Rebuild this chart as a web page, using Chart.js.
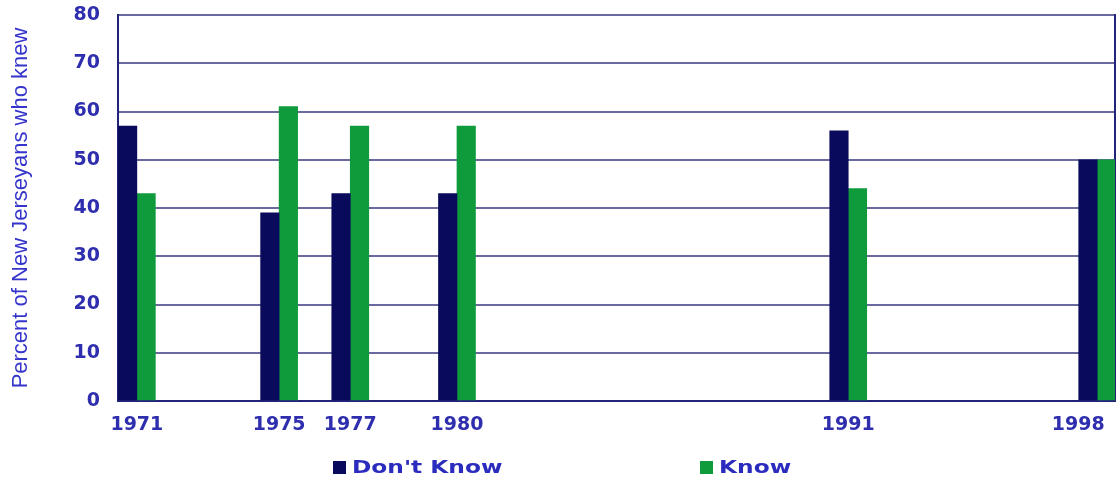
<!DOCTYPE html>
<html>
<head>
<meta charset="utf-8">
<script src="https://cdn.jsdelivr.net/npm/chart.js"></script>
<style>
  html, body { margin: 0; padding: 0; background: #ffffff; }
  #wrap { position: relative; width: 1117px; height: 489px; }
  #legend { position: absolute; left: 0; top: 457px; width: 1117px; height: 24px; }
  .item {
    position: absolute; top: 0; display: flex; align-items: center;
    font: bold 17px "DejaVu Sans", sans-serif; color: #2b2bbd; white-space: nowrap;
  }
  .box { width: 13px; height: 13px; margin-right: 6px; }
  .txt { display: inline-block; transform: scaleX(1.37); transform-origin: left center; }
</style>
</head>
<body>
<div id="wrap">
  <canvas id="chart" width="1117" height="489"></canvas>
  <div id="legend"></div>
</div>
<script>
const years = [1971, 1975, 1977, 1980, 1991, 1998];
const dontKnow = [57, 39, 43, 43, 56, 50];
const know = [43, 61, 57, 57, 44, 50];
const seriesNames = ["Don't Know", "Know"];
const seriesColors = ['#0a0a5c', '#0f9b3b'];
const yTitle = 'Percent of New Jerseyans who knew';

const tickBlue = '#2e2eae';
const lineNavy = '#23237a';
const legendLeft = [333, 700];

// legend kept as html so the wide gap between the two entries matches
const legendEl = document.getElementById('legend');
seriesNames.forEach((name, i) => {
  const item = document.createElement('div');
  item.className = 'item';
  item.style.left = legendLeft[i] + 'px';
  const box = document.createElement('span');
  box.className = 'box';
  box.style.background = seriesColors[i];
  const txt = document.createElement('span');
  txt.className = 'txt';
  txt.textContent = name;
  item.appendChild(box);
  item.appendChild(txt);
  legendEl.appendChild(item);
});

const ctx = document.getElementById('chart').getContext('2d');
new Chart(ctx, {
  type: 'bar',
  data: {
    datasets: [
      {
        label: seriesNames[0],
        data: years.map((y, i) => ({ x: y, y: dontKnow[i] })),
        backgroundColor: seriesColors[0],
        borderWidth: 0
      },
      {
        label: seriesNames[1],
        data: years.map((y, i) => ({ x: y, y: know[i] })),
        backgroundColor: seriesColors[1],
        borderWidth: 0
      }
    ]
  },
  options: {
    responsive: false,
    animation: false,
    devicePixelRatio: 1,
    barThickness: 18.5,
    layout: { padding: { top: 15, right: 2, bottom: 48, left: 0 } },
    plugins: {
      legend: { display: false },
      tooltip: { enabled: false }
    },
    scales: {
      x: {
        type: 'linear',
        min: 1970.47,
        max: 1998.5,
        offset: false,
        grid: { display: false, offset: false },
        border: { display: true, color: lineNavy, width: 2 },
        ticks: {
          autoSkip: false,
          maxRotation: 0,
          padding: 5,
          color: tickBlue,
          font: { family: 'DejaVu Sans', size: 19, weight: 'bold' },
          // last label is pushed left in the original so it stays on the page
          callback: v => v === 1998 ? String(v) + '\u2002\u2002\u2002\u2002' : String(v)
        },
        afterBuildTicks: scale => { scale.ticks = years.map(v => ({ value: v })); },
        afterFit: scale => {
          scale.height = 40;
          scale.paddingLeft = 0;
          scale.paddingRight = 0;
        }
      },
      y: {
        min: 0,
        max: 80,
        grid: { color: '#6a6aa0', lineWidth: 2, drawTicks: false },
        border: { display: true, color: lineNavy, width: 2 },
        ticks: {
          stepSize: 10,
          padding: 18,
          color: tickBlue,
          font: { family: 'DejaVu Sans', size: 19, weight: 'bold' }
        },
        title: {
          display: true,
          text: yTitle,
          color: '#3535cc',
          font: { family: 'Liberation Sans', size: 22 },
          padding: { top: 8, bottom: 0 }
        },
        afterFit: scale => {
          scale.width = 118;
          scale.paddingTop = 0;
          scale.paddingBottom = 0;
        }
      },
      y2: {
        position: 'right',
        min: 0,
        max: 80,
        grid: { drawOnChartArea: false, drawTicks: false },
        border: { display: true, color: lineNavy, width: 2 },
        ticks: { display: false },
        afterFit: scale => {
          scale.width = 0;
          scale.paddingTop = 0;
          scale.paddingBottom = 0;
        }
      }
    }
  }
});
</script>
</body>
</html>
